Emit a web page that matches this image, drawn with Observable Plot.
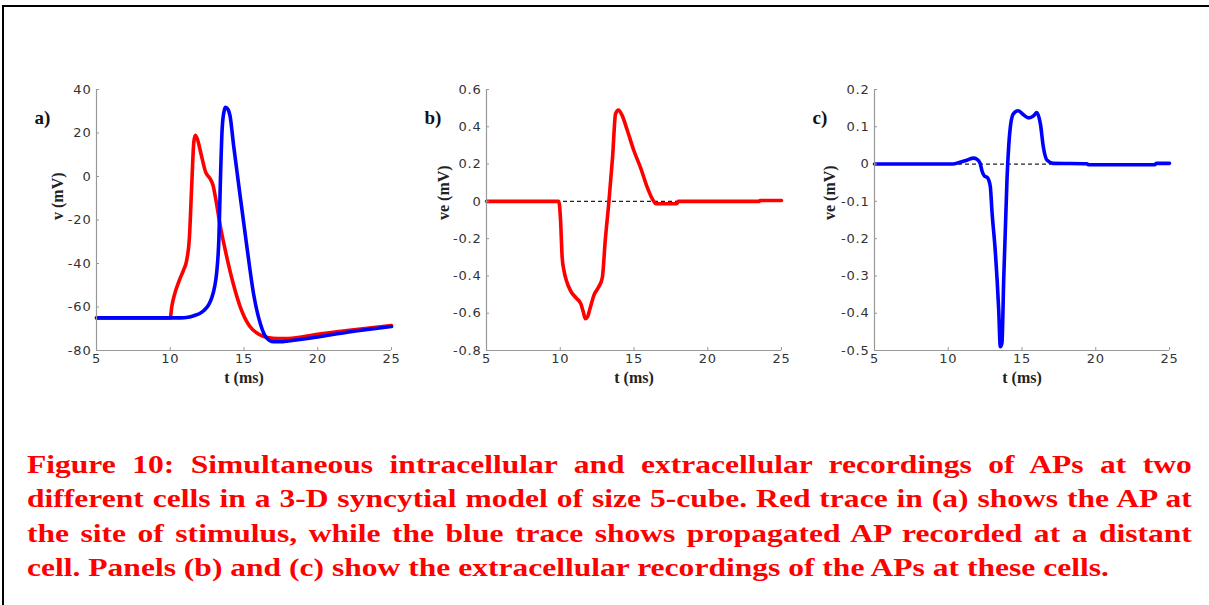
<!DOCTYPE html>
<html>
<head>
<meta charset="utf-8">
<script src="https://cdn.jsdelivr.net/npm/d3@7"></script>
<script src="https://cdn.jsdelivr.net/npm/@observablehq/plot@0.6"></script>
<style>
  html, body { margin: 0; padding: 0; background: #fff; }
  #fig { position: relative; width: 1209px; height: 605px; overflow: hidden; background: #fff; }
  #border { position: absolute; left: 2px; top: 5px; right: 0; bottom: -5px; border-top: 2px solid #000; border-left: 2px solid #000; }
  .panel { position: absolute; top: 80px; }
  #caption { position: absolute; left: 27px; width: 923px; top: 448px; color: #ff0000;
    transform: scaleX(1.262); transform-origin: 0 0;
    font-family: "Liberation Serif", serif; font-weight: bold; font-size: 25px; line-height: 34.3px; }
  #caption div { text-align: justify; text-align-last: justify; white-space: nowrap; }
  #caption div.last { text-align-last: left; }
</style>
</head>
<body>
<div id="fig">
  <div id="border"></div>
  <div id="pa" class="panel" style="left:20px"></div>
  <div id="pb" class="panel" style="left:410px"></div>
  <div id="pc" class="panel" style="left:798px"></div>
  <div id="caption"></div>
</div>
<script>
// ---- data ----
const xTicks = [5, 10, 15, 20, 25];
const aYTicks = [-80, -60, -40, -20, 0, 20, 40];
const bYTicks = [-0.8, -0.6, -0.4, -0.2, 0, 0.2, 0.4, 0.6];
const cYTicks = [-0.5, -0.4, -0.3, -0.2, -0.1, 0, 0.1, 0.2];

// panel a: red trace (stimulus site)
const aRedT = [5, 10, 10.1, 10.3, 10.6, 10.9, 11.1, 11.3, 11.45, 11.6, 11.7, 11.85, 12.1, 12.4, 12.7, 12.9, 13.1, 13.4, 13.8, 14.3, 14.8, 15.4, 16, 16.6, 17.3, 18, 20, 22, 25];
const aRedV = [-65, -65, -60, -54, -48, -43, -39, -28, -5, 16, 19, 17, 10, 2, -1, -4, -11, -23, -36, -50, -61, -69, -72.5, -74, -74.5, -74.5, -72.5, -70.8, -68.5];
// panel a: blue trace (distant cell)
const aBlueT = [5, 10.7, 11.2, 11.6, 12, 12.3, 12.6, 12.8, 13, 13.15, 13.3, 13.4, 13.52, 13.65, 13.75, 13.9, 14.05, 14.3, 14.75, 15.2, 15.65, 16.1, 16.5, 17, 17.5, 18, 20, 22, 25];
const aBlueV = [-65, -65, -64.7, -64, -63, -61.5, -59, -56, -51, -44, -28, -2, 22, 30, 31.8, 31, 28, 14, -9.5, -32.5, -54, -67.5, -74, -76, -76, -75.6, -73.8, -71.6, -69];
// panel b: extracellular at stimulus site (red)
const bT = [5, 9.9, 10.02, 10.13, 10.25, 10.4, 10.7, 11.1, 11.4, 11.55, 11.7, 11.85, 12.0, 12.3, 12.6, 12.85, 13.05, 13.3, 13.55, 13.75, 13.95, 14.2, 14.55, 15.0, 15.45, 15.9, 16.25, 16.5, 17.9, 18.0, 23.5, 23.55, 25];
const bV = [0, 0, -0.1, -0.3, -0.37, -0.42, -0.48, -0.52, -0.55, -0.59, -0.63, -0.62, -0.58, -0.5, -0.46, -0.41, -0.21, 0, 0.24, 0.47, 0.49, 0.46, 0.38, 0.27, 0.18, 0.075, 0.012, -0.013, -0.013, 0, 0, 0.005, 0.005];
// panel c: extracellular at distant cell (blue)
const cT = [5, 10.3, 10.8, 11.3, 11.7, 11.95, 12.15, 12.3, 12.45, 12.65, 12.85, 12.97, 13.2, 13.42, 13.53, 13.64, 13.76, 13.98, 14.16, 14.4, 14.75, 15.1, 15.45, 15.8, 16.0, 16.25, 16.45, 16.7, 17.1, 19.4, 19.5, 24, 24.1, 25];
const cV = [0, 0, 0.005, 0.011, 0.016, 0.013, 0.003, -0.02, -0.032, -0.036, -0.06, -0.13, -0.24, -0.39, -0.49, -0.48, -0.31, -0.044, 0.08, 0.134, 0.143, 0.132, 0.124, 0.13, 0.138, 0.107, 0.045, 0.01, 0.002, 0.001, -0.002, -0.002, 0.002, 0.002];

const captionLines = [
  "Figure 10: Simultaneous intracellular and extracellular recordings of APs at two",
  "different cells in a 3-D syncytial model of size 5-cube. Red trace in (a) shows the AP at",
  "the site of stimulus, while the blue trace shows propagated AP recorded at a distant",
  "cell. Panels (b) and (c) show the extracellular recordings of the APs at these cells."
];

// ---- drawing ----
const zip = (t, v) => t.map((d, i) => ({t: d, v: v[i]}));
const fmt = d => String(Math.round(d * 10) / 10);
const tickFont = "DejaVu Sans, sans-serif";
const labelFont = "Liberation Serif, serif";

function panel(el, {yTicks, series, ylabel, tag, zeroLine, labelDx}) {
  const yDom = [yTicks[0], yTicks[yTicks.length - 1]];
  const marks = [];
  if (zeroLine) marks.push(Plot.ruleY([0], {stroke: "#222", strokeWidth: 1.3, strokeDasharray: "4,3"}));
  for (const s of series) {
    marks.push(Plot.line(zip(s.t, s.v), {x: "t", y: "v", stroke: s.color, strokeWidth: 3.6, curve: "monotone-x"}));
  }
  marks.push(
    Plot.ruleX([xTicks[0]], {stroke: "#999", strokeWidth: 1.2}),
    Plot.ruleY([yDom[0]], {stroke: "#999", strokeWidth: 1.2}),
    Plot.axisX({ticks: xTicks, tickFormat: fmt, tickSize: -3, tickPadding: 6, stroke: "#999", fill: "#333", fontSize: 13, fontFamily: tickFont, label: null}),
    Plot.axisY({ticks: yTicks, tickFormat: fmt, tickSize: -3, tickPadding: 8, stroke: "#999", fill: "#333", fontSize: 13, fontFamily: tickFont, label: null}),
    Plot.text(["t (ms)"], {frameAnchor: "bottom", dy: 32, fontWeight: "bold", fontFamily: labelFont, fontSize: 16, fill: "#222"}),
    Plot.text([ylabel], {frameAnchor: "left", dx: labelDx, rotate: -90, fontWeight: "bold", fontFamily: labelFont, fontSize: 16, fill: "#222"}),
    Plot.text([tag], {frameAnchor: "top-left", dx: -62, dy: 21, textAnchor: "start", fontWeight: "bold", fontFamily: labelFont, fontSize: 19, fill: "#111"})
  );
  const svg = Plot.plot({
    width: 380, height: 310,
    marginLeft: 76, marginRight: 9, marginTop: 9, marginBottom: 40,
    x: {domain: [5, 25]},
    y: {domain: yDom},
    style: {background: "transparent", overflow: "visible"},
    marks
  });
  d3.select(svg).selectAll('g[aria-label$="tick label"] text').attr("letter-spacing", "0.8px");
  document.getElementById(el).appendChild(svg);
}

panel("pa", {yTicks: aYTicks, ylabel: "v (mV)", tag: "a)", zeroLine: false, labelDx: -39,
  series: [{t: aRedT, v: aRedV, color: "#ff0000"}, {t: aBlueT, v: aBlueV, color: "#0000ff"}]});
panel("pb", {yTicks: bYTicks, ylabel: "ve (mV)", tag: "b)", zeroLine: true, labelDx: -43,
  series: [{t: bT, v: bV, color: "#ff0000"}]});
panel("pc", {yTicks: cYTicks, ylabel: "ve (mV)", tag: "c)", zeroLine: true, labelDx: -45,
  series: [{t: cT, v: cV, color: "#0000ff"}]});

const cap = document.getElementById("caption");
captionLines.forEach((l, i) => {
  const d = document.createElement("div");
  d.textContent = l;
  if (i === captionLines.length - 1) d.className = "last";
  cap.appendChild(d);
});
</script>
</body>
</html>
